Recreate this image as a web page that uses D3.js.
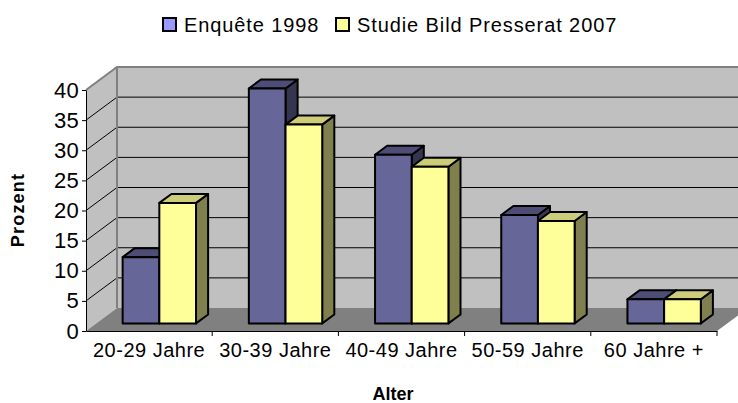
<!DOCTYPE html>
<html lang="de">
  <head>
    <meta charset="UTF-8" />
    <title>Alter</title>
    <script src="https://d3js.org/d3.v7.min.js"></script>
    <style>
      body {
        margin: 0;
        background-color: #FFFFFF;
        font-family: "Liberation Sans", Arial, sans-serif;
      }
    </style>
  </head>
  <body>
    <div id="my_dataviz"></div>
    <script>
      // data
      var categories = ["20-29 Jahre", "30-39 Jahre", "40-49 Jahre", "50-59 Jahre", "60 Jahre +"];
      var seriesNames = ["Enquête 1998", "Studie Bild Presserat 2007"];
      var enquete1998 = [11, 39, 28, 18, 4];
      var studie2007 = [20, 33, 26, 17, 4];
      var yTicks = [0, 5, 10, 15, 20, 25, 30, 35, 40];

      var width = 738, height = 403;

      // 3d depth offset of the plot box
      var DX = 31, DY = -23;
      var z0 = 0.33, z1 = 0.72;

      var colors = {
        front: ["#666699", "#FFFF99"],
        top: ["#4d4d76", "#cccc7a"],
        side: ["#35354f", "#80804f"],
        legend: ["#9999FF", "#FFFF99"]
      };

      var svg = d3
        .select("#my_dataviz")
        .append("svg")
        .attr("width", width)
        .attr("height", height)
        .style("font-family", "Liberation Sans, Arial, sans-serif");

      var x = d3.scaleBand().domain(categories).range([86, 717]).padding(0);
      var xs = d3
        .scaleBand()
        .domain(seriesNames)
        .range([0, x.bandwidth()])
        .paddingInner(0)
        .paddingOuter(0.72);
      var y = d3.scaleLinear().domain([0, 40]).range([331, 90]);

      function proj(px, py, z) {
        return [px + DX * z, py + DY * z];
      }
      function poly(pts) {
        return pts.map(function (p) { return p.join(","); }).join(" ");
      }

      var x0 = x.range()[0], x1 = x.range()[1];
      var yb = y(0), yt = y(40);

      // side wall
      svg.append("polygon")
        .attr("points", poly([proj(x0, yb, 0), proj(x0, yb, 1), proj(x0, yt, 1), proj(x0, yt, 0)]))
        .attr("fill", "#C0C0C0");
      // back wall
      svg.append("polygon")
        .attr("points", poly([proj(x0, yb, 1), proj(x1, yb, 1), proj(x1, yt, 1), proj(x0, yt, 1)]))
        .attr("fill", "#C0C0C0");
      // floor
      svg.append("polygon")
        .attr("points", poly([proj(x0, yb, 0), proj(x1, yb, 0), proj(x1, yb, 1), proj(x0, yb, 1)]))
        .attr("fill", "#808080");

      // gridlines
      var grid = svg.append("g");
      yTicks.filter(function (d) { return d > 0 && d < 40; }).forEach(function (v) {
        var a = proj(x0, y(v), 0), b = proj(x0, y(v), 1), c = proj(x1, y(v), 1);
        grid.append("polyline")
          .attr("points", poly([a, b, c]))
          .attr("fill", "none")
          .attr("stroke", "#000")
          .attr("stroke-width", 1);
      });

      // wall borders
      svg.append("polyline")
        .attr("points", poly([proj(x0, yt, 0), proj(x0, yt, 1), proj(x1, yt, 1)]))
        .attr("fill", "none")
        .attr("stroke", "#808080")
        .attr("stroke-width", 2);
      svg.append("line")
        .attr("x1", proj(x0, yt, 1)[0]).attr("y1", proj(x0, yt, 1)[1])
        .attr("x2", proj(x0, yb, 1)[0]).attr("y2", proj(x0, yb, 1)[1])
        .attr("stroke", "#808080")
        .attr("stroke-width", 2);

      // bars, drawn left to right
      var bars = svg.append("g").attr("stroke", "#000").attr("stroke-width", 2).attr("stroke-linejoin", "round");
      categories.forEach(function (cat, i) {
        [enquete1998, studie2007].forEach(function (vals, s) {
          var bx0 = x(cat) + xs(seriesNames[s]);
          var bx1 = bx0 + xs.bandwidth();
          var vy = y(vals[i]);
          bars.append("polygon")
            .attr("points", poly([proj(bx1, vy, z0), proj(bx1, yb, z0), proj(bx1, yb, z1), proj(bx1, vy, z1)]))
            .attr("fill", colors.side[s]);
          bars.append("polygon")
            .attr("points", poly([proj(bx0, vy, z0), proj(bx1, vy, z0), proj(bx1, vy, z1), proj(bx0, vy, z1)]))
            .attr("fill", colors.top[s]);
          bars.append("polygon")
            .attr("points", poly([proj(bx0, vy, z0), proj(bx1, vy, z0), proj(bx1, yb, z0), proj(bx0, yb, z0)]))
            .attr("fill", colors.front[s]);
        });
      });

      // Y axis
      var yAxis = svg.append("g")
        .attr("transform", "translate(" + x0 + ",0)")
        .call(d3.axisLeft(y).tickValues(yTicks).tickSize(4).tickSizeOuter(0).tickPadding(3));
      yAxis.select(".domain").attr("stroke", "#000");
      yAxis.selectAll("text")
        .attr("font-family", "Liberation Sans, Arial, sans-serif")
        .style("font-size", "22px")
        .style("letter-spacing", "0.3px")
        .attr("fill", "#000");

      // X axis: labels at band centres, ticks on band edges
      var xAxis = svg.append("g")
        .attr("transform", "translate(0," + yb + ")")
        .call(d3.axisBottom(x).tickSize(0).tickSizeOuter(0).tickPadding(12));
      xAxis.select(".domain").attr("stroke", "#000");
      xAxis.selectAll("text")
        .attr("font-family", "Liberation Sans, Arial, sans-serif")
        .style("font-size", "20px")
        .style("letter-spacing", "0.5px")
        .attr("fill", "#000");
      categories.forEach(function (c, i) {
        var tx = i + 1 < categories.length ? x(categories[i + 1]) : x1;
        svg.append("line")
          .attr("x1", tx).attr("x2", tx)
          .attr("y1", yb).attr("y2", yb + 5)
          .attr("stroke", "#000");
      });

      // axis titles
      svg.append("text")
        .attr("transform", "translate(24,210) rotate(-90)")
        .attr("text-anchor", "middle")
        .attr("font-weight", 700)
        .style("font-size", "18px")
        .style("letter-spacing", "1.2px")
        .text("Prozent");

      svg.append("text")
        .attr("x", 393)
        .attr("y", 400)
        .attr("text-anchor", "middle")
        .attr("font-weight", 700)
        .style("font-size", "18px")
        .text("Alter");

      // legend
      var legendX = [163, 336];
      var legend = svg.append("g");
      seriesNames.forEach(function (name, s) {
        legend.append("rect")
          .attr("x", legendX[s]).attr("y", 18)
          .attr("width", 13).attr("height", 13)
          .attr("fill", colors.legend[s])
          .attr("stroke", "#000")
          .attr("stroke-width", 2);
        legend.append("text")
          .attr("x", legendX[s] + 21)
          .attr("y", 32)
          .style("font-size", "20px")
          .style("letter-spacing", "0.9px")
          .text(name);
      });
    </script>
  </body>
</html>
